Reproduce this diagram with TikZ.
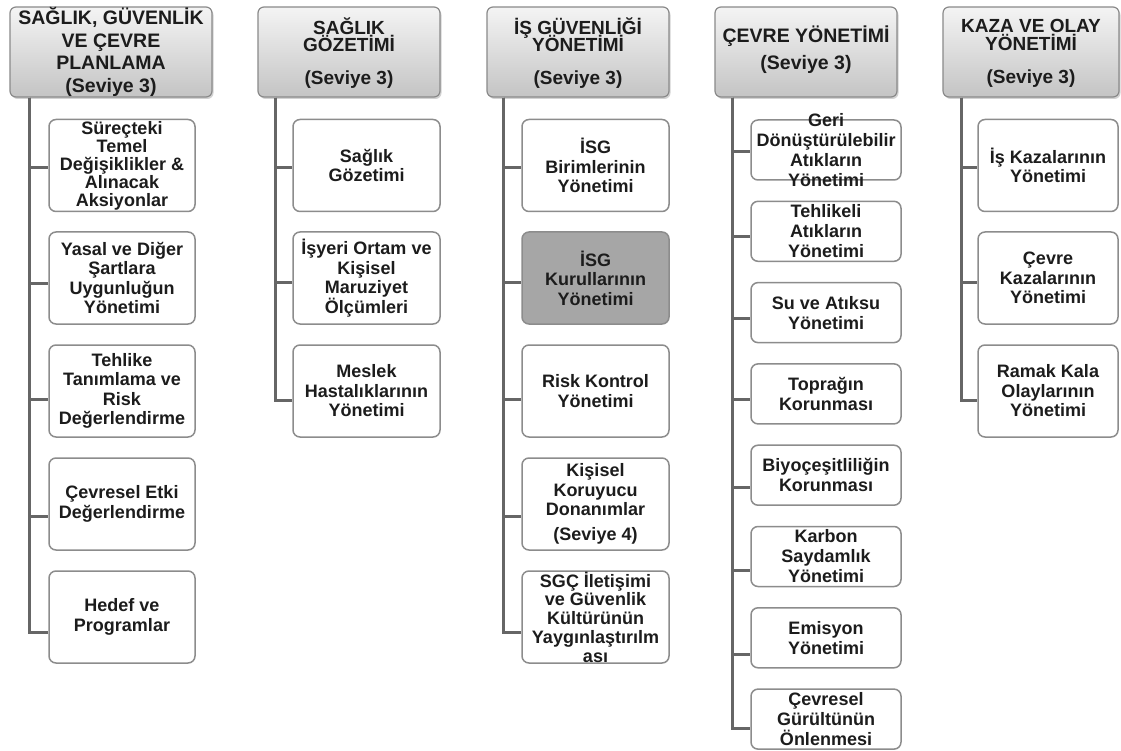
\documentclass[tikz,border=0pt]{standalone}
\usepackage{fontspec}
\setmainfont{Liberation Sans}
\usetikzlibrary{shadows}

\definecolor{hdrtop}{HTML}{F4F4F4}
\definecolor{hdrbot}{HTML}{C4C4C4}
\definecolor{hdrline}{HTML}{8A8A8A}
\definecolor{boxline}{HTML}{8C8C8C}
\definecolor{linecol}{HTML}{666666}
\definecolor{txtcol}{HTML}{1C1C1C}
\definecolor{markfill}{HTML}{A6A6A6}

% bold text with a fixed line pitch: #1 size, #2 baseline skip
\newcommand\kalin[2]{\bfseries\fontsize{#1}{#2}\selectfont\lineskiplimit-50pt\relax}

% box (fixed size) + its text on top, so long texts may run over the border
% #1 box options, #2 text options, #3 name, #4 position, #5 text
\newcommand\altkutu[5]{%
  \node[subbox,#1] (#3) at (#4) {};
  \node[subtxt,#2] (#3t) at (#3) {#5};}

\begin{document}
\begin{tikzpicture}[x=1pt,y=-1pt,
  hdr/.style={draw=hdrline, line width=1.2pt, rounded corners=6pt,
    top color=hdrtop, bottom color=hdrbot,
    minimum width=182pt, minimum height=90pt, inner sep=0pt,
    drop shadow={shadow xshift=1.5pt, shadow yshift=-2pt, opacity=0.35}},
  htxt/.style={font=\kalin{19.5}{22.5}, align=center, text=txtcol, inner sep=0pt},
  subbox/.style={draw=boxline, line width=1.5pt, rounded corners=7pt, fill=white,
    minimum width=147pt, minimum height=92pt, inner sep=0pt},
  subtxt/.style={font=\kalin{18}{19.5}, align=center, text=txtcol, inner sep=0pt},
  trunk/.style={draw=linecol, line width=3pt},
]
\fill[white] (0,0) rectangle (1121,751);
\useasboundingbox (0,0) rectangle (1121,751);

% ---------- level-3 headers ----------
\node[hdr, minimum width=202pt] (h1) at (111,52) {};
\node[hdr] (h2) at (349,52) {};
\node[hdr] (h3) at (578,52) {};
\node[hdr] (h4) at (806,52) {};
\node[hdr, minimum width=176pt] (h5) at (1031,52) {};

\node[htxt] (h1t) at (111,51.7) {SAĞLIK, GÜVENLİK\\VE ÇEVRE\\PLANLAMA\\(Seviye 3)};
\node[htxt, font=\kalin{19}{17}] (h2t) at (349,52.8) {SAĞLIK\\GÖZETİMİ\\[16pt](Seviye 3)};
\node[htxt, font=\kalin{19}{17}] (h3t) at (578,52.8) {İŞ GÜVENLİĞİ\\YÖNETİMİ\\[16pt](Seviye 3)};
\node[htxt] (h4t) at (806,49.8) {ÇEVRE YÖNETİMİ\\[4.5pt](Seviye 3)};
\node[htxt, font=\kalin{19}{18}] (h5t) at (1031,53) {KAZA VE OLAY\\YÖNETİMİ\\[15pt](Seviye 3)};

% ---------- column 1 ----------
\altkutu{minimum width=146pt}{font=\kalin{18}{18}}
  {c11}{122,165.5}{Süreçteki\\Temel\\Değişiklikler \&\\Alınacak\\Aksiyonlar}
\altkutu{minimum width=146pt}{}{c12}{122,278}{Yasal ve Diğer\\Şartlara\\Uygunluğun\\Yönetimi}
\altkutu{minimum width=146pt}{}{c13}{122,391}{Tehlike\\Tanımlama ve\\Risk\\Değerlendirme}
\altkutu{minimum width=146pt}{}{c14}{122,504}{Çevresel Etki\\Değerlendirme}
\altkutu{minimum width=146pt}{}{c15}{122,617}{Hedef ve\\Programlar}

% ---------- column 2 ----------
\altkutu{}{}{c21}{366.5,165.5}{Sağlık\\Gözetimi}
\altkutu{}{}{c22}{366.5,278}{İşyeri Ortam ve\\Kişisel\\Maruziyet\\Ölçümleri}
\altkutu{}{}{c23}{366.5,391}{Meslek\\Hastalıklarının\\Yönetimi}

% ---------- column 3 ----------
\altkutu{}{}{c31}{595.5,165.5}{İSG\\Birimlerinin\\Yönetimi}
\altkutu{fill=markfill}{}{c32}{595.5,278}{İSG\\Kurullarının\\Yönetimi}
\altkutu{}{}{c33}{595.5,391}{Risk Kontrol\\Yönetimi}
\altkutu{}{}{c34}{595.5,504}{Kişisel\\Koruyucu\\Donanımlar\\[5pt](Seviye 4)}
\altkutu{}{font=\kalin{18}{18.8}}
  {c35}{595.5,617}{SGÇ İletişimi\\ve Güvenlik\\Kültürünün\\Yaygınlaştırılm\\ası}

% ---------- column 4 ----------
\tikzset{smallbox/.style={minimum width=150pt, minimum height=60pt}}
\tikzset{smalltxt/.style={font=\kalin{18}{20}}}
\altkutu{smallbox}{smalltxt}{c41}{826,150}{Geri\\Dönüştürülebilir\\Atıkların\\Yönetimi}
\altkutu{smallbox}{smalltxt}{c42}{826,231.3}{Tehlikeli\\Atıkların\\Yönetimi}
\altkutu{smallbox}{smalltxt}{c43}{826,312.6}{Su ve Atıksu\\Yönetimi}
\altkutu{smallbox}{smalltxt}{c44}{826,393.9}{Toprağın\\Korunması}
\altkutu{smallbox}{smalltxt}{c45}{826,475.2}{Biyoçeşitliliğin\\Korunması}
\altkutu{smallbox}{smalltxt}{c46}{826,556.5}{Karbon\\Saydamlık\\Yönetimi}
\altkutu{smallbox}{smalltxt}{c47}{826,637.8}{Emisyon\\Yönetimi}
\altkutu{smallbox}{smalltxt}{c48}{826,719.1}{Çevresel\\Gürültünün\\Önlenmesi}

% ---------- column 5 ----------
\altkutu{minimum width=140pt}{}{c51}{1048,165.5}{İş Kazalarının\\Yönetimi}
\altkutu{minimum width=140pt}{}{c52}{1048,278}{Çevre\\Kazalarının\\Yönetimi}
\altkutu{minimum width=140pt}{}{c53}{1048,391}{Ramak Kala\\Olaylarının\\Yönetimi}

% ---------- connectors: trunk under each header, branch to each box ----------
\foreach \c/\dy in {c11/-2.5, c12/-5, c13/-8, c14/-12, c15/-15}
  \draw[trunk] ([xshift=20pt]h1.south west) |- ([yshift=\dy pt]\c.west);
\foreach \c/\dy in {c21/-2.5, c22/-4, c23/-9}
  \draw[trunk] ([xshift=18pt]h2.south west) |- ([yshift=\dy pt]\c.west);
\foreach \c/\dy in {c31/-2.5, c32/-4, c33/-8, c34/-12, c35/-15}
  \draw[trunk] ([xshift=17pt]h3.south west) |- ([yshift=\dy pt]\c.west);
\foreach \c/\dy in {c41/-2, c42/-5, c43/-6, c44/-6, c45/-12, c46/-14, c47/-17, c48/-9}
  \draw[trunk] ([xshift=18pt]h4.south west) |- ([yshift=\dy pt]\c.west);
\foreach \c/\dy in {c51/-2.5, c52/-4, c53/-9}
  \draw[trunk] ([xshift=19pt]h5.south west) |- ([yshift=\dy pt]\c.west);
\end{tikzpicture}
\end{document}
